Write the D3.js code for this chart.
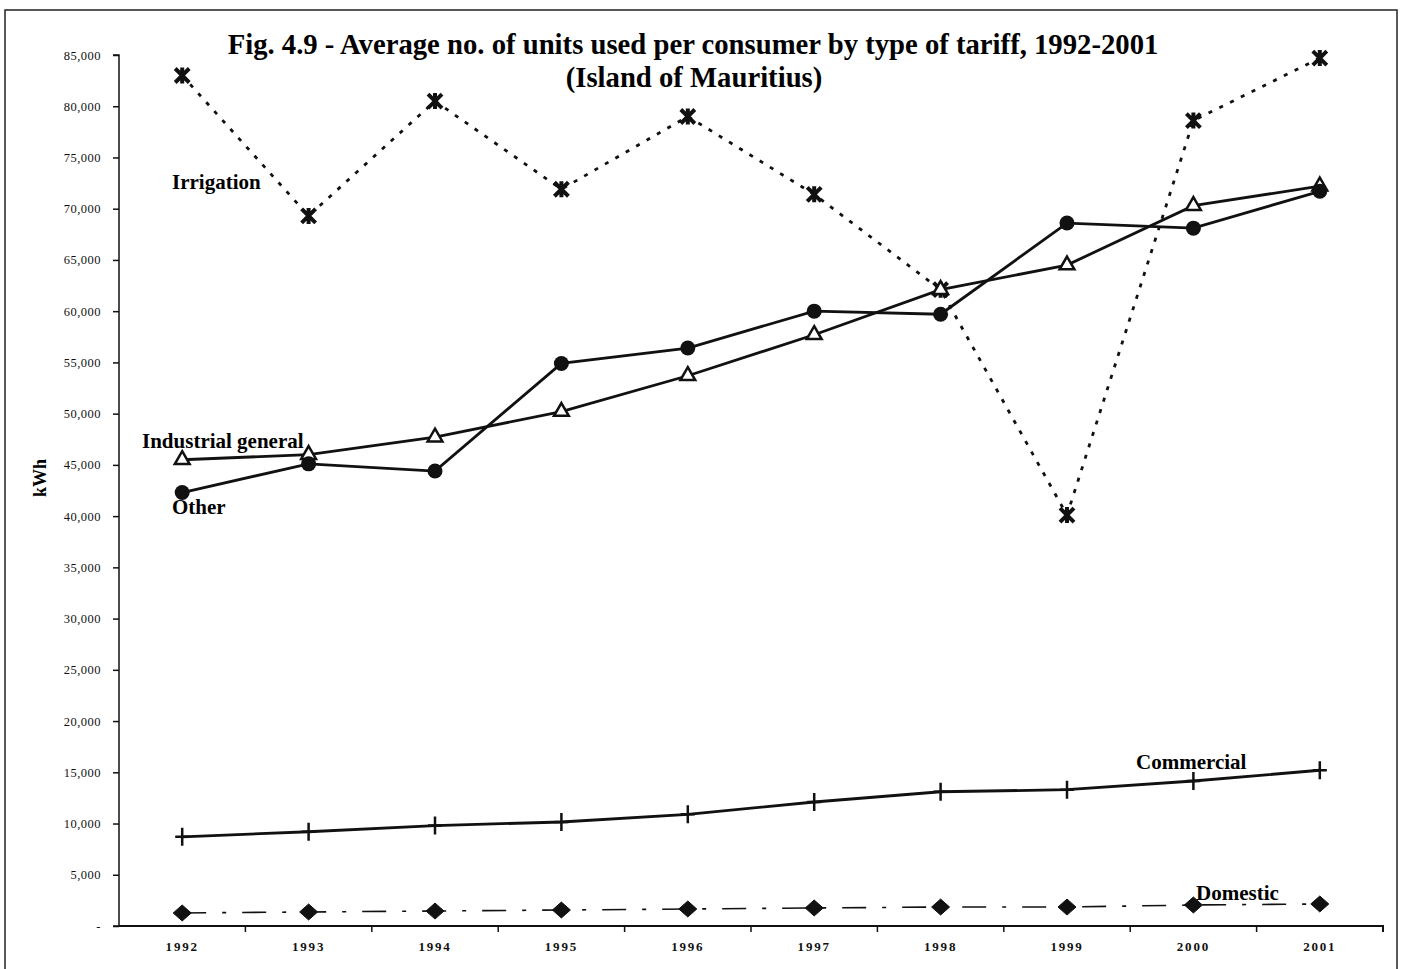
<!DOCTYPE html>
<html>
<head>
<meta charset="utf-8">
<script src="https://cdn.jsdelivr.net/npm/d3@7"></script>
<style>
  body { margin: 0; background: #fff; }
  svg text { font-family: "Liberation Serif", "Times New Roman", serif; }
</style>
</head>
<body>
<div id="chart"></div>
<script>
// data
var years = ['1992', '1993', '1994', '1995', '1996', '1997', '1998', '1999', '2000', '2001'];
var irrigation = [83000, 69300, 80500, 71900, 79000, 71400, 62100, 40100, 78600, 84700];
var industrial = [45500, 46000, 47700, 50200, 53700, 57700, 62100, 64500, 70300, 72200];
var other = [42300, 45100, 44400, 54900, 56400, 60000, 59700, 68600, 68100, 71700];
var commercial = [8700, 9200, 9800, 10150, 10900, 12100, 13100, 13300, 14150, 15200];
var domestic = [1270, 1370, 1460, 1560, 1660, 1760, 1850, 1850, 2050, 2150];
var yTicks = d3.range(0, 85001, 5000);

var width = 1405, height = 969;
var plotLeft = 119, plotRight = 1383, plotTop = 55, plotBottom = 926;

var svg = d3.select('#chart').append('svg')
    .attr('width', width)
    .attr('height', height);

// outer frame
svg.append('rect')
    .attr('x', 5).attr('y', 10)
    .attr('width', 1392).attr('height', 975)
    .attr('fill', 'none')
    .attr('stroke', '#222')
    .attr('stroke-width', 1.5);

var x = d3.scaleBand().domain(years).range([plotLeft, plotRight]);
var y = d3.scaleLinear().domain([0, 85000]).range([plotBottom, plotTop]);
var cx = function(d, i) { return x(years[i]) + x.bandwidth() / 2; };

// y axis
var yAxis = svg.append('g')
    .attr('transform', 'translate(' + plotLeft + ',0)')
    .call(d3.axisLeft(y).tickValues(yTicks).tickSize(6).tickPadding(12)
        .tickFormat(function(d) { return d === 0 ? '-' : d3.format(',')(d); }));
yAxis.selectAll('text').style('font-size', '12.5px').style('letter-spacing', '0.5px').attr('fill', '#111');
yAxis.selectAll('line, path').attr('stroke', '#111').attr('stroke-width', 1.5);
yAxis.select('.domain').attr('d', 'M-6,' + plotTop + 'H0V' + plotBottom + 'H-6');

// x axis, ticks between categories
var xAxis = svg.append('g')
    .attr('transform', 'translate(0,' + plotBottom + ')')
    .call(d3.axisBottom(x).tickSize(0).tickPadding(16));
xAxis.selectAll('text').style('font-size', '13px').style('font-weight', 'bold')
    .style('letter-spacing', '1.8px').attr('fill', '#111');
xAxis.select('.domain').attr('stroke', '#111').attr('stroke-width', 2)
    .attr('d', 'M' + plotLeft + ',0H' + plotRight + 'V6');
xAxis.selectAll('.sep')
    .data(years.slice(1))
    .enter().append('line')
    .attr('class', 'sep')
    .attr('x1', function(d) { return x(d); })
    .attr('x2', function(d) { return x(d); })
    .attr('y1', 0).attr('y2', 6)
    .attr('stroke', '#111').attr('stroke-width', 1.5);

// y title
svg.append('text')
    .attr('transform', 'translate(46,' + 478 + ') rotate(-90)')
    .attr('text-anchor', 'middle')
    .style('font-size', '18px').style('font-weight', 'bold')
    .text('kWh');

// title
svg.append('text')
    .attr('x', 693).attr('y', 54)
    .attr('text-anchor', 'middle')
    .style('font-size', '28.7px').style('font-weight', 'bold')
    .text('Fig. 4.9 - Average no. of units used per consumer by type of tariff, 1992-2001');
svg.append('text')
    .attr('x', 694).attr('y', 87)
    .attr('text-anchor', 'middle')
    .style('font-size', '28.7px').style('font-weight', 'bold')
    .text('(Island of Mauritius)');

var line = d3.line()
    .x(cx)
    .y(function(d) { return y(d); });

function drawLine(values, dash, w) {
    svg.append('path')
        .datum(values)
        .attr('d', line)
        .attr('fill', 'none')
        .attr('stroke', '#111')
        .attr('stroke-width', w)
        .attr('stroke-dasharray', dash);
}

drawLine(irrigation, '4,8', 2.8);
drawLine(industrial, null, 2.8);
drawLine(other, null, 2.8);
drawLine(commercial, null, 2.8);
drawLine(domestic, '24,16,4,16', 1.6);

// markers
function markers(values, name) {
    return svg.append('g').selectAll('g')
        .data(values)
        .enter().append('g')
        .attr('class', name)
        .attr('transform', function(d, i) { return 'translate(' + cx(d, i) + ',' + y(d) + ')'; });
}

markers(irrigation, 'irr').append('path')
    .attr('d', 'M-7,-7L7,7M7,-7L-7,7M0,-8V8')
    .attr('stroke', '#111').attr('stroke-width', 4).attr('fill', 'none');

markers(industrial, 'ind').append('path')
    .attr('d', d3.symbol().type(d3.symbolTriangle).size(95))
    .attr('fill', '#fff').attr('stroke', '#111').attr('stroke-width', 2.5);

markers(other, 'oth').append('circle')
    .attr('r', 7.5).attr('fill', '#111');

markers(commercial, 'com').append('path')
    .attr('d', 'M0,-9V9M-7,0H7')
    .attr('stroke', '#111').attr('stroke-width', 2.5);

markers(domestic, 'dom').append('path')
    .attr('d', 'M0,-8L9,0L0,8L-9,0Z')
    .attr('stroke', '#111').attr('stroke-width', 1).attr('stroke-linejoin', 'round')
    .attr('fill', '#111');

// series labels
var labels = [
    { text: 'Irrigation', x: 172, y: 189 },
    { text: 'Industrial general', x: 142, y: 448 },
    { text: 'Other', x: 172, y: 514 },
    { text: 'Commercial', x: 1136, y: 769 },
    { text: 'Domestic', x: 1196, y: 900 }
];
svg.selectAll('.lbl')
    .data(labels)
    .enter().append('text')
    .attr('class', 'lbl')
    .attr('x', function(d) { return d.x; })
    .attr('y', function(d) { return d.y; })
    .style('font-size', '21px').style('font-weight', 'bold')
    .text(function(d) { return d.text; });
</script>
</body>
</html>
